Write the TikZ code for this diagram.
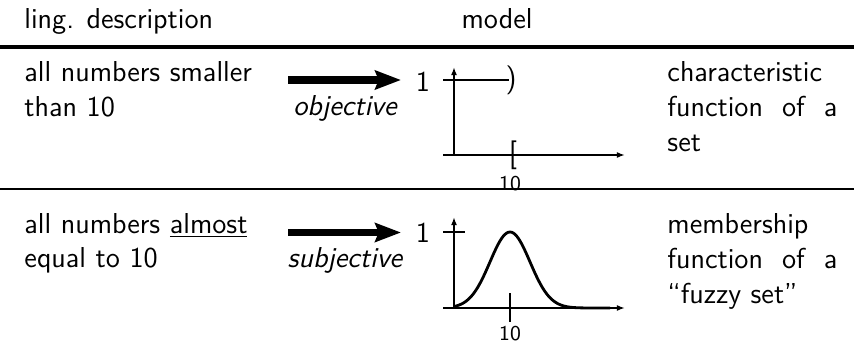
\documentclass[tikz,border=0pt]{standalone}
\usepackage{tikz}
\usetikzlibrary{arrows.meta, positioning}
\tikzset{
  txt/.style={font=\fontsize{12.3}{14.9}\selectfont\sffamily, inner sep=0pt},
  lefttxt/.style={txt, text width=110pt, align=left, anchor=base west},
  righttxt/.style={txt, text width=72.5pt, align=justify, anchor=base west},
  ticktxt/.style={font=\fontsize{9}{11}\selectfont\sffamily, inner sep=0pt, anchor=base},
  bigarrow/.style={-{Stealth[length=11pt, width=8pt, inset=1.5pt]}, line width=3pt},
  axis/.style={-{Latex[length=3.5pt, width=2.6pt]}, line width=0.8pt},
  fun/.style={line width=1.2pt},
  toprule/.style={line width=1.3pt},
  midrule/.style={line width=0.85pt}
}
\newcommand{\loosepar}{\tolerance=10000\relax\hyphenpenalty=10000\relax}

\begin{document}
\begin{tikzpicture}[x=0.015cm, y=-0.015cm]
  \useasboundingbox (0,0) rectangle (854,346);

  % header
  \node[txt, anchor=base west] (ling) at (24,29) {ling. description};
  \node[txt, anchor=base] (model) at (497,29) {model};
  \draw[toprule] (0,47) -- (854,47);

  % crisp set
  \node[lefttxt] (desc1) at (24,82) {all numbers smaller\\than 10};
  \coordinate (arr1s) at (288,80);
  \coordinate (arr1e) at (401,80);
  \draw[bigarrow] (arr1s) -- (arr1e);
  \node[txt, anchor=base] (obj) at (345,116) {\itshape objective};
  \node[txt] (one1) at (423,81.5) {1};
  \draw[axis] (443,155) -- (625,155);
  \draw[axis] (454,155) -- (454,67);
  \draw[fun] (443,80) -- (509,80);
  \node[txt] (rpar) at (511,80) {)};
  \node[txt] (lbrk) at (513,155) {[};
  \draw[fun] (511,155) -- (617,155);
  \node[ticktxt] (ten1) at (510,191) {10};
  \node[righttxt] (chr) at (667,81.5) {\loosepar characteristic function of a set};
  \draw[midrule] (0,189) -- (854,189);

  % fuzzy set
  \node[lefttxt] (desc2) at (24,233) {all numbers \underline{almost}\\equal to 10};
  \coordinate (arr2s) at (288,232.5);
  \coordinate (arr2e) at (401,232.5);
  \draw[bigarrow] (arr2s) -- (arr2e);
  \node[txt, anchor=base] (subj) at (345,268) {\itshape subjective};
  \node[txt] (one2) at (423,233) {1};
  \draw[axis] (443,308) -- (625,308);
  \draw[axis] (454,308) -- (454,217);
  \draw[midrule] (443,232) -- (465,232);
  \draw[midrule] (510,293) -- (510,322);
  \draw[fun] plot[domain=454:610, samples=90, smooth]
    (\x, {308-76*exp(-0.5*((\x-510)/20)*((\x-510)/20))});
  \node[ticktxt] (ten2) at (510,340) {10};
  \node[righttxt] (mem) at (667,234) {\loosepar membership function of a ``fuzzy set''};
\end{tikzpicture}
\end{document}
